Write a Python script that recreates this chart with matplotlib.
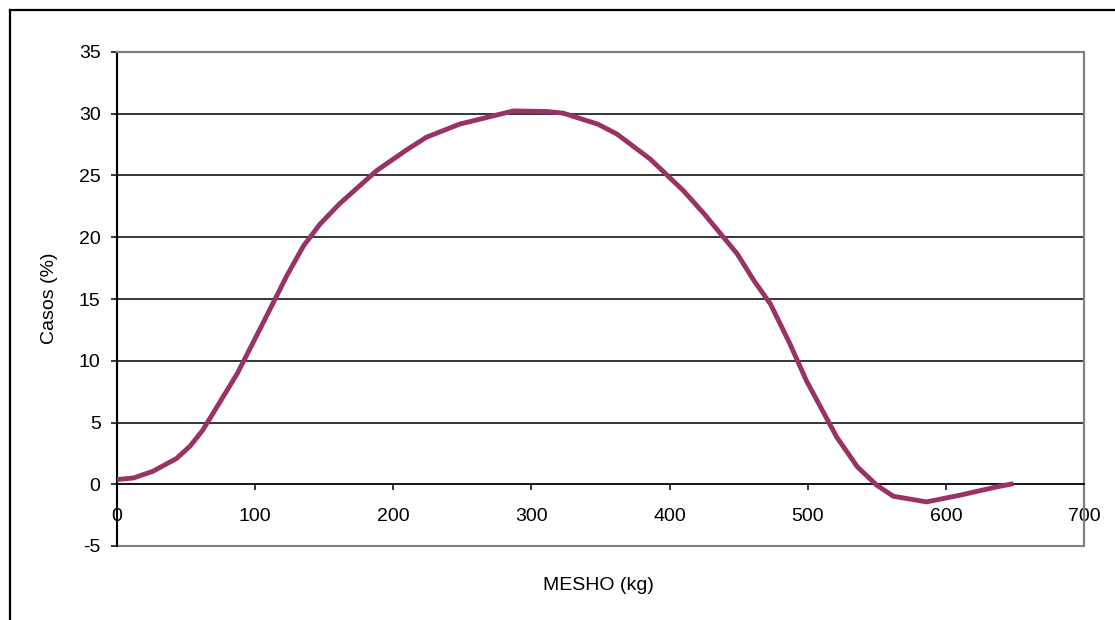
import matplotlib
matplotlib.use("Agg")
import matplotlib.pyplot as plt
from matplotlib.lines import Line2D
from matplotlib.patches import Rectangle

plt.rcParams['font.family'] = ['Liberation Sans', 'DejaVu Sans']
plt.rcParams['axes.unicode_minus'] = False

# weight (kg) and cases (%)
mesho = [0, 12, 26, 43, 53, 62, 87, 105, 123, 135, 147, 161, 188, 210, 224, 248,
         287, 311, 323, 348, 362, 386, 410, 425, 449, 461, 473, 487, 499, 521,
         536, 550, 562, 586, 610, 637, 649]
casos = [0.38, 0.51, 1.05, 2.08, 3.1, 4.37, 8.95, 12.9, 16.9, 19.3, 21.07, 22.7,
         25.4, 27.1, 28.1, 29.16, 30.23, 30.18, 30.05, 29.16, 28.35, 26.33, 23.77,
         21.9, 18.65, 16.5, 14.6, 11.4, 8.4, 3.82, 1.4, -0.08, -0.97, -1.43,
         -0.89, -0.21, 0.05]

x_ticks = [0, 100, 200, 300, 400, 500, 600, 700]
y_ticks = [-5, 0, 5, 10, 15, 20, 25, 30, 35]

W, H = 1115, 620
fig = plt.figure(figsize=(W / 100, H / 100), dpi=100)
ax = fig.add_axes([117 / W, (H - 546) / H, 967 / W, 494 / H])

# horizontal grid lines
for v in y_ticks[2:-1]:
    ax.axhline(v, color='black', lw=1.1, zorder=1)

ax.plot(mesho, casos, color='#993366', lw=3.5, solid_joinstyle='round',
        solid_capstyle='butt', zorder=3)

ax.set_xlim(0, 700)
ax.set_ylim(-5, 35)
ax.set_xticks(x_ticks)
ax.set_yticks(y_ticks)

ax.spines['bottom'].set_position(('data', 0))
ax.spines['bottom'].set_color('black')
ax.spines['bottom'].set_linewidth(1.3)
ax.spines['left'].set_color('black')
ax.spines['left'].set_linewidth(1.5)
for s in ['top', 'right']:
    ax.spines[s].set_color('#808080')
    ax.spines[s].set_linewidth(1.5)
ax.add_patch(Rectangle((0, 0), 1, 1, transform=ax.transAxes, fill=False,
                       edgecolor='#808080', lw=1.5, clip_on=False, zorder=0))

ax.tick_params(axis='x', direction='out', length=4.3, width=1.1, pad=13,
               labelsize=14, color='black')
ax.tick_params(axis='y', direction='out', length=4.3, width=1.1, pad=7.5,
               labelsize=14, color='black')

fig.text(50 / W, 1 - 298 / H, 'Casos (%)', rotation=90, ha='center', va='center',
         fontsize=14)
fig.text(598 / W, 1 - 586 / H, 'MESHO (kg)', ha='center', va='center', fontsize=14)

# outer chart frame
fig.add_artist(Line2D([10 / W, 10 / W], [0, 1 - 10 / H], transform=fig.transFigure,
                      color='black', lw=1.6))
fig.add_artist(Line2D([10 / W, 1], [1 - 10 / H, 1 - 10 / H], transform=fig.transFigure,
                      color='black', lw=1.6))

fig.savefig('out.png', dpi=100)
